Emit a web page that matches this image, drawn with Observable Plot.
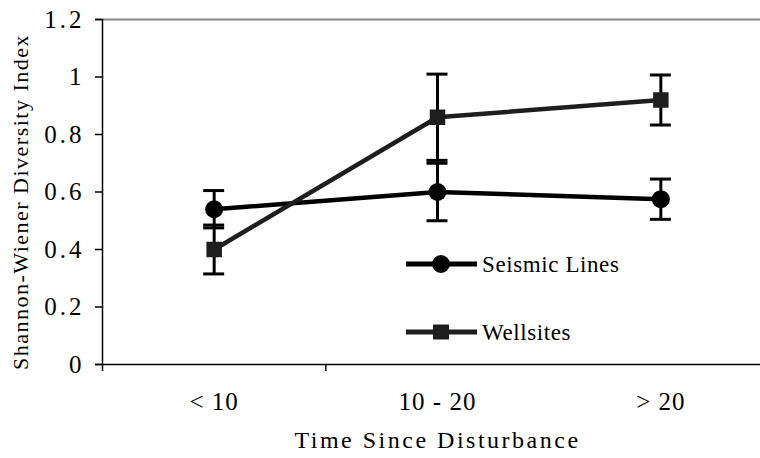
<!DOCTYPE html>
<html>
<head>
<meta charset="utf-8">
<script src="https://cdn.jsdelivr.net/npm/d3@7"></script>
<script src="https://cdn.jsdelivr.net/npm/@observablehq/plot@0.6"></script>
<style>
  html, body { margin: 0; padding: 0; background: #fff; overflow: hidden; }
  #chart { position: relative; width: 760px; height: 458px; overflow: hidden; }
  #chart svg { position: absolute; left: 0; top: 0; }
  #chart svg [aria-label="y-axis tick label"] text { letter-spacing: 3px; }
  #chart svg [aria-label="x-axis tick label"] text { letter-spacing: 1px; }
</style>
</head>
<body>
<div id="chart"></div>
<script>
// Shannon-Wiener diversity by time since disturbance (mean ± error)
const categories = ["< 10", "10 - 20", "> 20"];
const seriesNames = ["Seismic Lines", "Wellsites"];
const seismicMean = [0.54, 0.60, 0.575];
const seismicErr = [0.065, 0.10, 0.07];
const wellsiteMean = [0.40, 0.86, 0.92];
const wellsiteErr = [0.085, 0.15, 0.087];
const yTicks = [0, 0.2, 0.4, 0.6, 0.8, 1, 1.2];
const xTitle = "Time Since Disturbance";
const yTitle = "Shannon-Wiener Diversity Index";

const serif = "'Liberation Serif', 'Times New Roman', serif";
const seriesColor = {"Seismic Lines": "#000000", "Wellsites": "#1e1e1e"};

function rowsFor(name, means, errs) {
  return categories.map((c, i) => ({series: name, cat: c, i, mean: means[i], err: errs[i]}));
}
const seismic = rowsFor(seriesNames[0], seismicMean, seismicErr);
const wellsites = rowsFor(seriesNames[1], wellsiteMean, wellsiteErr);

const capHalf = 0.047; // half-width of error bar caps, in category units

function seriesMarks(rows, symbol, r) {
  const color = seriesColor[rows[0].series];
  return [
    Plot.line(rows, {x: "i", y: "mean", stroke: color, strokeWidth: 4.5, strokeLinejoin: "round"}),
    Plot.ruleX(rows, {x: "i", y1: d => d.mean - d.err, y2: d => d.mean + d.err, stroke: "#000", strokeWidth: 3}),
    Plot.ruleY(rows, {y: d => d.mean - d.err, x1: d => d.i - capHalf, x2: d => d.i + capHalf, stroke: "#000", strokeWidth: 3}),
    Plot.ruleY(rows, {y: d => d.mean + d.err, x1: d => d.i - capHalf, x2: d => d.i + capHalf, stroke: "#000", strokeWidth: 3}),
    Plot.dot(rows, {x: "i", y: "mean", symbol, r, fill: color, stroke: "none"})
  ];
}

const chart = Plot.plot({
  width: 760,
  height: 458,
  marginTop: 19,
  marginBottom: 94,
  marginLeft: 102,
  marginRight: -12,
  style: {fontFamily: serif, fontSize: "25px", color: "#000", background: "transparent"},
  x: {type: "linear", domain: [-0.5, categories.length - 0.5]},
  y: {domain: [0, 1.2]},
  marks: [
    Plot.ruleY([1.2], {stroke: "#858585", strokeWidth: 2, dx: -7}),
    Plot.ruleY([0], {stroke: "#000", strokeWidth: 1.5, dx: -7}),
    Plot.ruleX([-0.5], {stroke: "#000", strokeWidth: 1.5}),
    Plot.axisY({ticks: yTicks, tickFormat: d => String(d), tickSize: 7, tickPadding: 11,
                label: null, fontSize: 25, strokeWidth: 1.5}),
    Plot.axisX({ticks: d3.range(categories.length - 1).map(i => i - 0.5), tickSize: 7,
                tickFormat: () => "", label: null, strokeWidth: 1.5}),
    Plot.axisX({ticks: d3.range(categories.length), tickSize: 0, tickPadding: 28,
                tickFormat: i => categories[i], label: null, fontSize: 25}),
    Plot.text([xTitle], {frameAnchor: "bottom", textAnchor: "middle", lineAnchor: "middle",
                dy: 76, fontSize: 24, fill: "#000"}),
    Plot.text([yTitle], {frameAnchor: "left", textAnchor: "middle", lineAnchor: "middle",
                rotate: -90, dx: -82, dy: 10, fontSize: 22, fill: "#000"}),
    ...seriesMarks(seismic, "circle", 9),
    ...seriesMarks(wellsites, "square", 8.75)
  ]
});

const host = document.getElementById("chart");
host.appendChild(chart);

// widen the spacing of the axis titles
d3.select(chart).selectAll("text")
  .filter(function() { return this.textContent === xTitle; })
  .style("letter-spacing", "2.5px");
d3.select(chart).selectAll("text")
  .filter(function() { return this.textContent === yTitle; })
  .style("letter-spacing", "1.5px");

// Legend drawn inside the plot area
const legend = d3.select(host).append("svg")
  .attr("width", 760).attr("height", 458)
  .style("pointer-events", "none");
const items = [
  {name: seriesNames[0], y: 264, shape: "circle"},
  {name: seriesNames[1], y: 332, shape: "square"}
];
for (const it of items) {
  const g = legend.append("g");
  const color = seriesColor[it.name];
  g.append("line").attr("x1", 406).attr("x2", 477).attr("y1", it.y).attr("y2", it.y)
    .attr("stroke", color).attr("stroke-width", 5);
  if (it.shape === "circle") {
    g.append("circle").attr("cx", 441).attr("cy", it.y).attr("r", 9).attr("fill", color);
  } else {
    g.append("rect").attr("x", 433).attr("y", it.y - 7.5).attr("width", 16).attr("height", 15).attr("fill", color);
  }
  g.append("text").attr("x", 482).attr("y", it.y + 8)
    .style("font-family", serif).style("font-size", "23px").style("letter-spacing", "0.6px")
    .attr("fill", "#000")
    .text(it.name);
}
</script>
</body>
</html>
